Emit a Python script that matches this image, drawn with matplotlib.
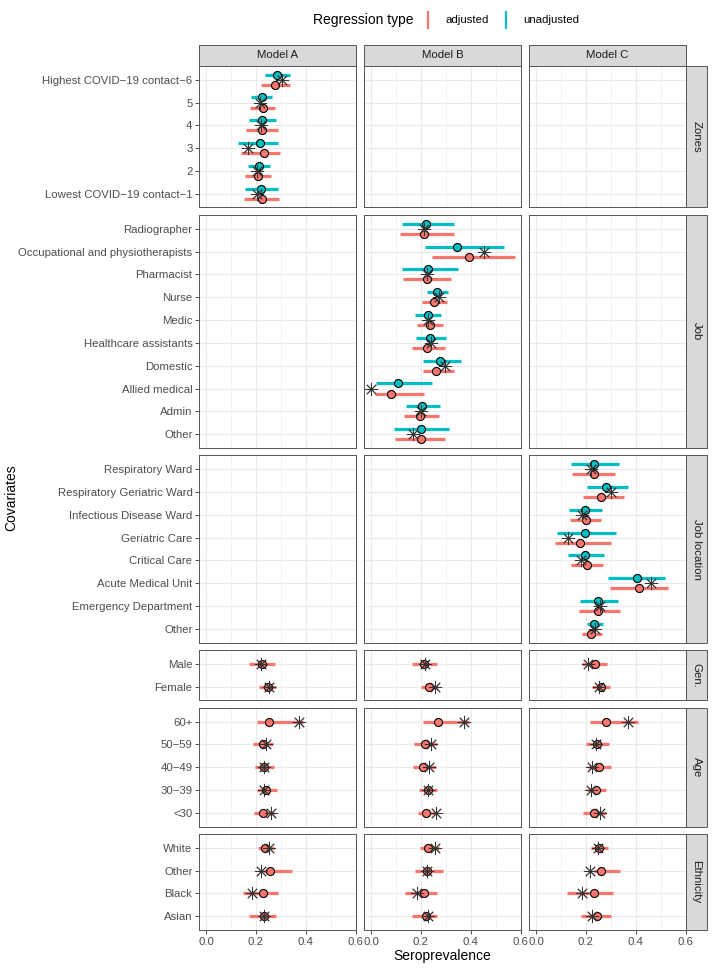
import numpy as np
import matplotlib
matplotlib.use("Agg")
import matplotlib.pyplot as plt
from matplotlib.lines import Line2D
from matplotlib.patches import Rectangle

plt.rcParams['font.family'] = ['Liberation Sans', 'DejaVu Sans']

ADJ = '#F8766D'
UNADJ = '#00BFC4'

models = ['Model A', 'Model B', 'Model C']
row_names = ['Zones', 'Job', 'Job location', 'Gen.', 'Age', 'Ethnicity']

# ---- Zones (Model A only), listed top to bottom
zone_cats = ['Highest COVID\u221219 contact\u22126', '5', '4', '3', '2',
             'Lowest COVID\u221219 contact\u22121']
zone_unadj = [0.284, 0.223, 0.225, 0.215, 0.212, 0.221]
zone_unadj_lo = [0.236, 0.182, 0.172, 0.129, 0.167, 0.156]
zone_unadj_hi = [0.336, 0.266, 0.281, 0.290, 0.256, 0.287]
zone_adj = [0.275, 0.227, 0.225, 0.231, 0.208, 0.223]
zone_adj_lo = [0.220, 0.177, 0.161, 0.140, 0.156, 0.153]
zone_adj_hi = [0.336, 0.277, 0.290, 0.297, 0.261, 0.293]
zone_obs = [0.304, 0.217, 0.220, 0.167, 0.206, 0.206]

# ---- Job (Model B only)
job_cats = ['Radiographer', 'Occupational and physiotherapists', 'Pharmacist',
            'Nurse', 'Medic', 'Healthcare assistants', 'Domestic',
            'Allied medical', 'Admin', 'Other']
job_unadj = [0.220, 0.344, 0.228, 0.263, 0.227, 0.236, 0.275, 0.109, 0.205, 0.199]
job_unadj_lo = [0.125, 0.217, 0.125, 0.224, 0.175, 0.179, 0.208, 0.019, 0.141, 0.092]
job_unadj_hi = [0.331, 0.532, 0.348, 0.309, 0.279, 0.300, 0.359, 0.245, 0.277, 0.311]
job_adj = [0.212, 0.395, 0.224, 0.252, 0.235, 0.225, 0.261, 0.080, 0.195, 0.200]
job_adj_lo = [0.116, 0.244, 0.128, 0.205, 0.185, 0.165, 0.208, 0.015, 0.132, 0.097]
job_adj_hi = [0.331, 0.576, 0.320, 0.303, 0.287, 0.296, 0.333, 0.212, 0.272, 0.296]
job_obs = [0.212, 0.452, 0.225, 0.272, 0.229, 0.240, 0.295, 0.000, 0.199, 0.167]

# ---- Job location (Model C only)
loc_cats = ['Respiratory Ward', 'Respiratory Geriatric Ward',
            'Infectious Disease Ward', 'Geriatric Care', 'Critical Care',
            'Acute Medical Unit', 'Emergency Department', 'Other']
loc_unadj = [0.231, 0.281, 0.196, 0.197, 0.196, 0.404, 0.248, 0.234]
loc_unadj_lo = [0.142, 0.205, 0.134, 0.084, 0.128, 0.289, 0.177, 0.203]
loc_unadj_hi = [0.334, 0.368, 0.265, 0.322, 0.273, 0.516, 0.328, 0.269]
loc_adj = [0.231, 0.261, 0.199, 0.177, 0.204, 0.412, 0.247, 0.222]
loc_adj_lo = [0.146, 0.190, 0.136, 0.075, 0.142, 0.296, 0.172, 0.184]
loc_adj_hi = [0.317, 0.354, 0.261, 0.300, 0.268, 0.528, 0.336, 0.265]
loc_obs = [0.220, 0.300, 0.186, 0.129, 0.180, 0.460, 0.256, 0.237]

# ---- Gender (all models; adjusted only), rows = Model A, B, C
gen_cats = ['Male', 'Female']
gen_adj = [[0.224, 0.247], [0.213, 0.232], [0.235, 0.259]]
gen_adj_lo = [[0.173, 0.211], [0.165, 0.199], [0.183, 0.223]]
gen_adj_hi = [[0.276, 0.281], [0.263, 0.269], [0.284, 0.297]]
gen_obs = [[0.221, 0.252], [0.217, 0.256], [0.209, 0.252]]

# ---- Age
age_cats = ['60+', '50\u221259', '40\u221249', '30\u221239', '<30']
age_adj = [[0.252, 0.228, 0.232, 0.241, 0.229],
           [0.267, 0.217, 0.209, 0.227, 0.220],
           [0.280, 0.243, 0.252, 0.240, 0.233]]
age_adj_lo = [[0.205, 0.187, 0.196, 0.203, 0.191],
              [0.209, 0.173, 0.168, 0.192, 0.187],
              [0.217, 0.199, 0.207, 0.204, 0.189]]
age_adj_hi = [[0.389, 0.269, 0.271, 0.284, 0.273],
              [0.392, 0.265, 0.261, 0.263, 0.265],
              [0.411, 0.293, 0.299, 0.279, 0.279]]
age_obs = [[0.371, 0.239, 0.232, 0.231, 0.260],
           [0.371, 0.240, 0.233, 0.227, 0.259],
           [0.368, 0.240, 0.225, 0.221, 0.256]]

# ---- Ethnicity
eth_cats = ['White', 'Other', 'Black', 'Asian']
eth_adj = [[0.237, 0.255, 0.229, 0.232],
           [0.229, 0.223, 0.211, 0.219],
           [0.252, 0.261, 0.233, 0.245]]
eth_adj_lo = [[0.207, 0.229, 0.147, 0.172],
              [0.196, 0.176, 0.135, 0.164],
              [0.220, 0.232, 0.123, 0.179]]
eth_adj_hi = [[0.271, 0.345, 0.287, 0.281],
              [0.272, 0.290, 0.263, 0.265],
              [0.287, 0.335, 0.308, 0.301]]
eth_obs = [[0.252, 0.221, 0.184, 0.231],
           [0.255, 0.223, 0.183, 0.228],
           [0.249, 0.216, 0.183, 0.225]]

row_cats = [zone_cats, job_cats, loc_cats, gen_cats, age_cats, eth_cats]

# which panel holds the two-series (dodged) data
dodged = {
    (0, 0): (zone_unadj, zone_unadj_lo, zone_unadj_hi, zone_adj, zone_adj_lo, zone_adj_hi, zone_obs),
    (1, 1): (job_unadj, job_unadj_lo, job_unadj_hi, job_adj, job_adj_lo, job_adj_hi, job_obs),
    (2, 2): (loc_unadj, loc_unadj_lo, loc_unadj_hi, loc_adj, loc_adj_lo, loc_adj_hi, loc_obs),
}
single = {3: (gen_adj, gen_adj_lo, gen_adj_hi, gen_obs),
          4: (age_adj, age_adj_lo, age_adj_hi, age_obs),
          5: (eth_adj, eth_adj_lo, eth_adj_hi, eth_obs)}

fig = plt.figure(figsize=(7.12, 9.68), dpi=100)
W, H = 712, 968
heights = [len(c) + 0.2 for c in row_cats]
gs = fig.add_gridspec(6, 3, height_ratios=heights,
                      left=199 / W, right=686 / W, top=1 - 66 / H, bottom=1 - 930 / H,
                      wspace=0.051, hspace=0.055)

LW = 2.3
MS = 5.8
STAR = 9.5
D = 0.22


def star(ax, x, y):
    ax.plot(x, y, marker=(8, 2, 0), ms=STAR, mec='#333333', mew=0.65,
            ls='none', zorder=5, clip_on=False)


def draw(ax, y, est, lo, hi, col):
    ax.hlines(y, lo, hi, color=col, lw=LW, zorder=3)
    ax.plot(est, y, 'o', mfc=col, mec='black', ms=MS, mew=0.8, ls='none', zorder=4)


axes = []
for r in range(6):
    cats = row_cats[r]
    n = len(cats)
    ypos = np.arange(n)[::-1]
    row_axes = []
    for c in range(3):
        ax = fig.add_subplot(gs[r, c])
        ax.set_xlim(-0.028, 0.6015)
        ax.set_ylim(-0.6, n - 0.4)
        ax.set_xticks([0.0, 0.2, 0.4, 0.6])
        ax.set_xticks([0.1, 0.3, 0.5], minor=True)
        ax.set_yticks(ypos)
        ax.grid(True, which='major', color='#EBEBEB', lw=0.8, zorder=0)
        ax.grid(True, which='minor', axis='x', color='#EBEBEB', lw=0.45, zorder=0)
        ax.set_axisbelow(True)
        for s in ax.spines.values():
            s.set_color('#555555')
            s.set_linewidth(0.7)
        ax.tick_params(which='major', length=2.75, width=0.6, color='#333333',
                       labelsize=8.2, labelcolor='#4D4D4D', pad=2)
        ax.tick_params(which='minor', length=0)
        if c == 0:
            ax.set_yticklabels(cats)
        else:
            ax.tick_params(axis='y', length=0, labelleft=False)
        if r == 5:
            ax.set_xticklabels(['0.0', '0.2', '0.4', '0.6'])
        else:
            ax.tick_params(axis='x', length=0, labelbottom=False)

        if (r, c) in dodged:
            u, ulo, uhi, a, alo, ahi, obs = dodged[(r, c)]
            draw(ax, ypos + D, u, ulo, uhi, UNADJ)
            draw(ax, ypos - D, a, alo, ahi, ADJ)
            star(ax, obs, ypos)
        elif r in single:
            a, alo, ahi, obs = single[r]
            draw(ax, ypos, a[c], alo[c], ahi[c], ADJ)
            star(ax, obs[c], ypos)
        row_axes.append(ax)
    axes.append(row_axes)

# facet strips
for c in range(3):
    p = axes[0][c].get_position()
    h = 21 / H
    fig.add_artist(Rectangle((p.x0, p.y1), p.width, h, transform=fig.transFigure,
                             facecolor='#D9D9D9', edgecolor='#555555', lw=0.7))
    fig.text(p.x0 + p.width / 2, p.y1 + h / 2, models[c], ha='center', va='center',
             fontsize=8.2, color='#1A1A1A')
for r in range(6):
    p = axes[r][2].get_position()
    w = 21 / W
    fig.add_artist(Rectangle((p.x1, p.y0), w, p.height, transform=fig.transFigure,
                             facecolor='#D9D9D9', edgecolor='#555555', lw=0.7))
    fig.text(p.x1 + w / 2, p.y0 + p.height / 2, row_names[r], ha='center', va='center',
             rotation=-90, fontsize=8.2, color='#1A1A1A')

# axis titles
fig.text((199 + 686) / 2 / W, 1 - 956 / H, 'Seroprevalence', ha='center', va='center',
         fontsize=10)
fig.text(11 / W, 1 - 498 / H, 'Covariates', ha='center', va='center', rotation=90,
         fontsize=10)

# legend
ly = 1 - 20 / H
fig.text(313 / W, ly, 'Regression type', ha='left', va='center', fontsize=10)
for xk, col, lab in [(428, ADJ, 'adjusted'), (506, UNADJ, 'unadjusted')]:
    fig.add_artist(Line2D([xk / W, xk / W], [1 - 12 / H, 1 - 28 / H],
                          transform=fig.transFigure, color=col, lw=1.6))
    fig.text((xk + 17) / W, ly, lab, ha='left', va='center', fontsize=8.2)

fig.savefig('out.png', dpi=100)
